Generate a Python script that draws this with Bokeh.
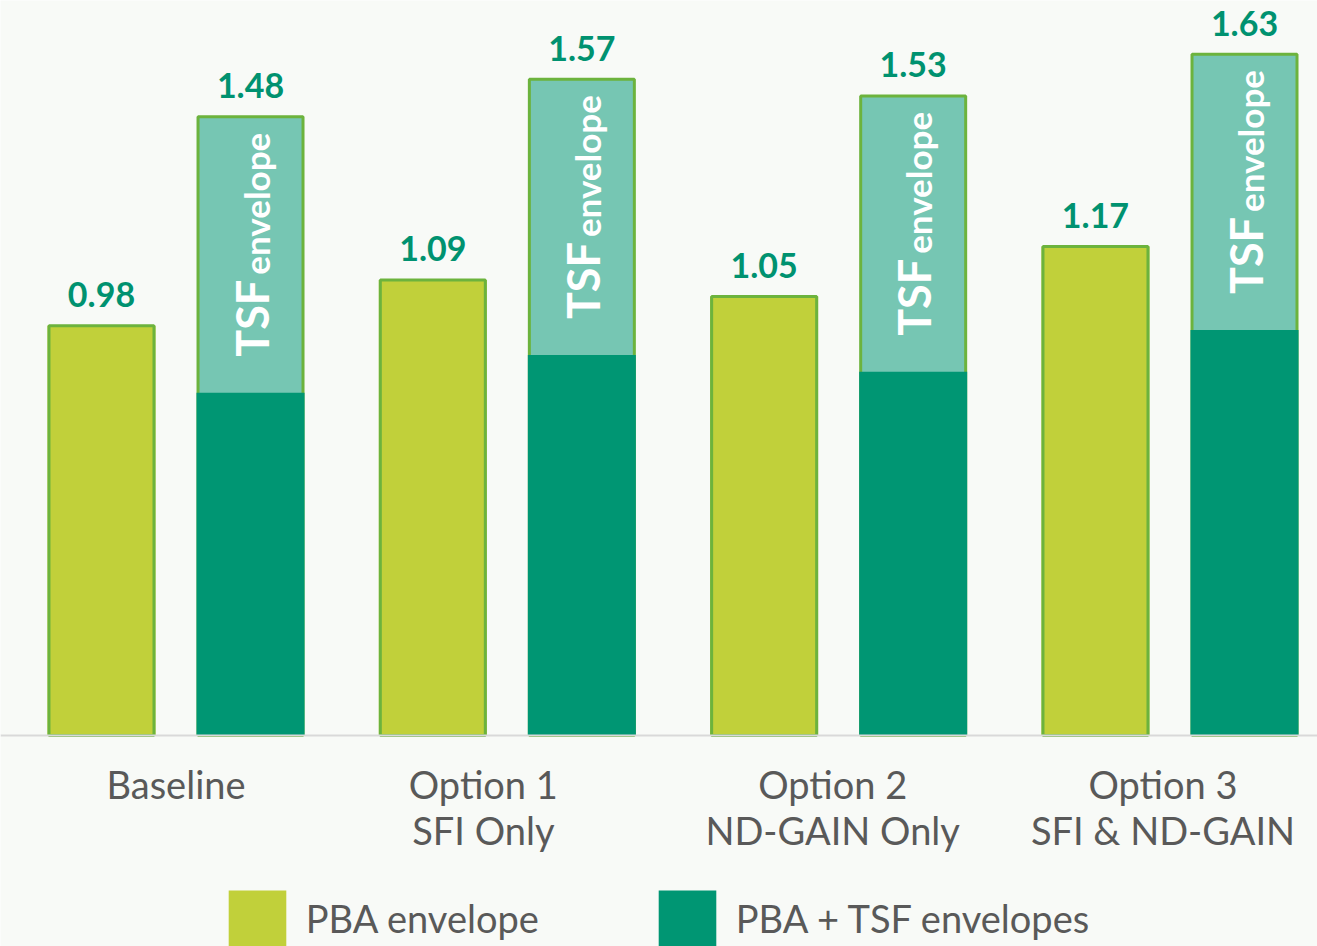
import math
from bokeh.plotting import figure
from bokeh.models import ColumnDataSource, Span, Legend, LegendItem, Range1d
from bokeh.transform import dodge
from bokeh.core.properties import value
from bokeh.embed import file_html
from bokeh.resources import INLINE

# ---- data ----
line1 = ["Baseline", "Option 1", "Option 2", "Option 3"]
line2 = ["", "SFI Only", "ND-GAIN Only", "SFI & ND-GAIN"]
pba = [0.98, 1.09, 1.05, 1.17]            # PBA envelope
pba_tsf = [1.48, 1.57, 1.53, 1.63]        # PBA + TSF envelopes (total)
pba_part = [0.82, 0.91, 0.87, 0.97]       # darker lower segment
pba_labels = ["0.98", "1.09", "1.05", "1.17"]
tot_labels = ["1.48", "1.57", "1.53", "1.63"]

# ---- styles ----
C_PBA = "#c1d03a"
C_DARK = "#009673"
C_LIGHT = "#76c6b3"
C_EDGE = "#6cb33d"
C_VAL = "#009270"
C_TXT = "#595959"
BG = "#f8faf7"
FONT = "Lato"
LABEL_NUDGE_PX = [0, -24, -6, -7]   # small horizontal nudges of category labels

idx = list(range(len(line1)))
src = ColumnDataSource(dict(x=idx, pba=pba, tot=pba_tsf, part=pba_part,
                            l1=line1, l2=line2, pl=pba_labels, tl=tot_labels,
                            dx=LABEL_NUDGE_PX,
                            tsf=["TSF"] * len(idx), env=["envelope"] * len(idx)))

W, H = 1317, 946
p = figure(width=W, height=H, output_backend="svg", toolbar_location=None,
           x_range=Range1d(-0.5297, 3.4452), y_range=Range1d(-0.5048, 1.7584),
           min_border=0, background_fill_color=BG, border_fill_color=BG,
           outline_line_color=None)
p.xaxis.visible = False
p.yaxis.visible = False
p.xgrid.visible = False
p.ygrid.visible = False

OFF = 0.2249
BW = 105 / 331.33
BW_FULL = 108 / 331.33

# baseline axis line
p.add_layout(Span(location=0, dimension="width", line_color="#d9d9d9", line_width=2))

# PBA bars: fill and outline
r_pba_fill = p.vbar(x=dodge("x", -OFF, range=p.x_range), top="pba", width=BW_FULL, source=src,
                    fill_color=C_PBA, line_color=None)
p.vbar(x=dodge("x", -OFF, range=p.x_range), top="pba", width=BW, source=src,
       fill_color=None, line_color=C_EDGE, line_width=3)
# total bars (light top)
p.vbar(x=dodge("x", OFF, range=p.x_range), top="tot", width=BW, source=src,
       fill_color=C_LIGHT, line_color=C_EDGE, line_width=3)
# dark lower segment
r_dark = p.vbar(x=dodge("x", OFF, range=p.x_range), top="part", width=BW_FULL, source=src,
                fill_color=C_DARK, line_color=None)

# value labels
p.text(x=dodge("x", -OFF, range=p.x_range), y="pba", text="pl", source=src,
       text_align="center", text_baseline="middle", y_offset=-31,
       text_font=value(FONT), text_font_style="bold", text_font_size="34px", text_color=C_VAL)
p.text(x=dodge("x", OFF, range=p.x_range), y="tot", text="tl", source=src,
       text_align="center", text_baseline="middle", y_offset=-31,
       text_font=value(FONT), text_font_style="bold", text_font_size="34px", text_color=C_VAL)

# rotated "TSF envelope" labels
p.text(x=dodge("x", OFF, range=p.x_range), y="part", text="tsf", source=src,
       angle=math.pi / 2, text_align="left", text_baseline="middle",
       x_offset=1, y_offset=-36,
       text_font=value(FONT), text_font_style="bold", text_font_size="45px", text_color="white")
p.text(x=dodge("x", OFF, range=p.x_range), y="part", text="env", source=src,
       angle=math.pi / 2, text_align="left", text_baseline="middle",
       x_offset=5, y_offset=-118,
       text_font=value(FONT), text_font_style="bold", text_font_size="35px", text_color="white")

# category labels
p.text(x="x", y=0, text="l1", source=src, text_align="center", text_baseline="middle",
       x_offset="dx", y_offset=49, text_font=value(FONT), text_font_size="38px", text_color=C_TXT)
p.text(x="x", y=0, text="l2", source=src, text_align="center", text_baseline="middle",
       x_offset="dx", y_offset=95, text_font=value(FONT), text_font_size="38px", text_color=C_TXT)

# legends (area glyphs are drawn with a 10% inset, so sizes are scaled up)
for item, loc in ((LegendItem(label="PBA envelope", renderers=[r_pba_fill]), (220.75, -7)),
                  (LegendItem(label="PBA + TSF envelopes", renderers=[r_dark]), (650.75, -7))):
    leg = Legend(items=[item], location=loc, glyph_width=72, glyph_height=70,
                 label_standoff=13, padding=0, margin=0, spacing=0,
                 background_fill_alpha=0, border_line_alpha=0,
                 label_text_font=FONT, label_text_font_size="38px", label_text_color=C_TXT,
                 label_height=70)
    p.add_layout(leg, "center")

open("out.html", "w").write(file_html(p, INLINE))
